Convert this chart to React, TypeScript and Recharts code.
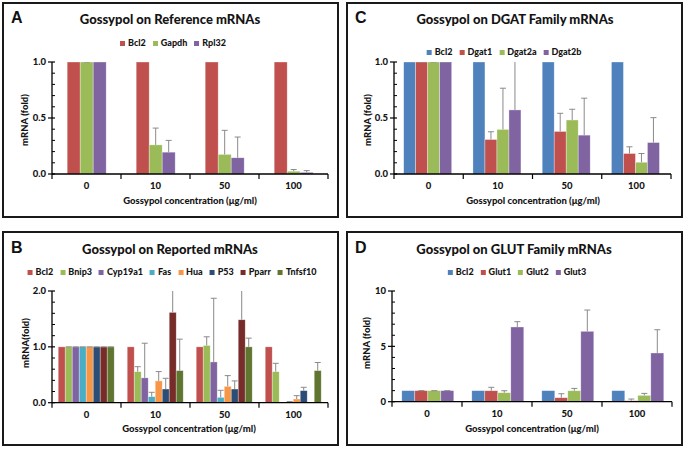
import React from 'react';
import { BarChart, Bar, XAxis, YAxis } from 'recharts';

// ---------- data ----------
const concentrations = ['0', '10', '50', '100'];

// Panel A: reference mRNAs
const aBcl2 = [1, 1, 1, 1];
const aGapdh = [1, 0.26, 0.175, 0.025];
const aGapdhErr = [0, 0.15, 0.215, 0.015];
const aRpl32 = [1, 0.195, 0.145, 0.015];
const aRpl32Err = [0, 0.105, 0.185, 0.015];

// Panel B: reported mRNAs
const bBcl2 = [1, 1, 1, 1];
const bBnip3 = [1, 0.555, 1.025, 0.555];
const bBnip3Err = [0, 0.09, 0.155, 0.15];
const bCyp19a1 = [1, 0.445, 0.73, 0];
const bCyp19a1Err = [0, 0.62, 1.14, 0];
const bFas = [1, 0.108, 0.096, 0.01];
const bFasErr = [0, 0.078, 0.126, 0.01];
const bHua = [1, 0.39, 0.293, 0.066];
const bHuaErr = [0, 0.167, 0.192, 0.06];
const bP53 = [1, 0.245, 0.245, 0.216];
const bP53Err = [0, 0.192, 0.145, 0.06];
const bPparr = [1, 1.617, 1.485, 0];
const bPparrErr = [0, 0.6, 0.6, 0];
const bTnfsf10 = [1, 0.575, 1.0, 0.575];
const bTnfsf10Err = [0, 0.563, 0.156, 0.145];

// Panel C: DGAT family
const cBcl2 = [1, 1, 1, 1];
const cDgat1 = [1, 0.308, 0.38, 0.183];
const cDgat1Err = [0, 0.069, 0.162, 0.06];
const cDgat2a = [1, 0.398, 0.482, 0.105];
const cDgat2aErr = [0, 0.368, 0.096, 0.078];
const cDgat2b = [1, 0.572, 0.347, 0.281];
const cDgat2bErr = [0, 0.45, 0.33, 0.222];

// Panel D: GLUT family
const dBcl2 = [1, 1, 1, 1];
const dGlut1 = [1, 0.99, 0.36, 0.09];
const dGlut1Err = [0, 0.31, 0.36, 0.15];
const dGlut2 = [1, 0.81, 0.99, 0.57];
const dGlut2Err = [0, 0.18, 0.21, 0.18];
const dGlut3 = [1, 6.75, 6.36, 4.4];
const dGlut3Err = [0, 0.48, 1.92, 2.1];

// tick labels
const ticksA = [0, 0.1, 0.2, 0.3, 0.4, 0.5, 0.6, 0.7, 0.8, 0.9, 1.0];
const majorsA = [0, 0.5, 1.0];
const ticksB = [0, 0.2, 0.4, 0.6, 0.8, 1.0, 1.2, 1.4, 1.6, 1.8, 2.0];
const majorsB = [0, 1.0, 2.0];
const ticksD = [0, 1, 2, 3, 4, 5, 6, 7, 8, 9, 10];
const majorsD = [0, 5, 10];

const xTitle = 'Gossypol concentration (μg/ml)';

// ---------- helpers ----------
type Series = { name: string; color: string; values: number[]; err?: number[] };

const buildRows = (series: Series[]) =>
  concentrations.map((c, i) => {
    const row: any = { c };
    series.forEach((s) => {
      row[s.name] = s.values[i];
      if (s.err) row[s.name + '_err'] = s.err[i];
    });
    return row;
  });

const FONT = "Lato, 'Open Sans', 'DejaVu Sans', sans-serif";
const TEXT = '#141414';
const W = 900;

const makeShape = (key: string, hasErr: boolean, max: number) => (props: any) => {
  const { x, y, width, height, fill, payload } = props;
  const v = payload[key];
  const e = hasErr ? payload[key + '_err'] : undefined;
  const els: any[] = [];
  if (height > 0) {
    els.push(
      <rect key="r" x={x} y={y} width={width} height={height} fill={fill} stroke="rgba(255,255,255,0.55)" strokeWidth={0.6} />
    );
  }
  if (e !== undefined && v > 0 && height > 0) {
    const ppu = height / v;
    const topVal = Math.min(v + e, max);
    const yTop = y + height - topVal * ppu;
    const cx = x + width / 2;
    if (e > 0) els.push(<line key="l" x1={cx} x2={cx} y1={y} y2={yTop} stroke="#8a8a8a" strokeWidth={1} />);
    if (v + e <= max)
      els.push(<line key="c" x1={cx - 3} x2={cx + 3} y1={yTop} y2={yTop} stroke="#8a8a8a" strokeWidth={1} />);
  }
  return <g>{els}</g>;
};

const makeYTick = (majors: number[], fmt: (v: number) => string) => (props: any) => {
  const { x, y, payload } = props;
  const v = payload.value;
  const isMajor = majors.some((m) => Math.abs(m - v) < 1e-9);
  return (
    <g>
      {isMajor ? (
        <line x1={x - 4} x2={x + 3} y1={y} y2={y} stroke="#000" strokeWidth={1.2} />
      ) : (
        <line x1={x} x2={x + 3} y1={y} y2={y} stroke="#000" strokeWidth={1} />
      )}
      {isMajor && (
        <text x={x - 6} y={y} dy={3.3} textAnchor="end" fontSize={9.5} fontWeight={W} fill={TEXT} fontFamily={FONT}>
          {fmt(v)}
        </text>
      )}
    </g>
  );
};

const XTick = (props: any) => {
  const { x, y, payload, index, width, visibleTicksCount } = props;
  const half = payload && payload.offset ? payload.offset : (width || 276) / (visibleTicksCount || 4) / 2;
  return (
    <g>
      <line x1={x + half} x2={x + half} y1={y} y2={y + 5} stroke="#000" strokeWidth={1.2} />
      {index === 0 && <line x1={x - half} x2={x - half} y1={y} y2={y + 5} stroke="#000" strokeWidth={1.2} />}
      <text x={x} y={y + 15} textAnchor="middle" fontSize={9.5} fontWeight={W} fill={TEXT} fontFamily={FONT}>
        {payload.value}
      </text>
    </g>
  );
};

type PanelProps = {
  box: { l: number; t: number; w: number; h: number };
  chart: { l: number; t: number; w: number; h: number };
  plot: { l: number; r: number; t: number; b: number };
  letter: string;
  letterPos: [number, number];
  title: string;
  titlePos: [number, number];
  legendPos: [number, number];
  xTitlePos: [number, number];
  yTitle: string;
  yTitlePos: [number, number];
  series: Series[];
  domainMax: number;
  ticks: number[];
  majors: number[];
  fmt: (v: number) => string;
  gap: string;
};

const YAW = 30;
const XAH = 20;

const Panel = (p: PanelProps) => {
  const rows = buildRows(p.series);
  const margin = {
    top: p.plot.t - p.chart.t,
    right: p.chart.l + p.chart.w - p.plot.r,
    left: p.plot.l - p.chart.l - YAW,
    bottom: p.chart.t + p.chart.h - p.plot.b - XAH,
  };
  return (
    <>
      <div
        style={{
          position: 'absolute',
          left: p.box.l,
          top: p.box.t,
          width: p.box.w,
          height: p.box.h,
          border: '2px solid #1a1a1a',
          boxSizing: 'border-box',
          background: '#fff',
        }}
      />
      <div style={{ position: 'absolute', left: p.chart.l, top: p.chart.t }}>
        <BarChart
          width={p.chart.w}
          height={p.chart.h}
          data={rows}
          margin={margin}
          barCategoryGap={p.gap}
          barGap={0}
        >
          <XAxis
            dataKey="c"
            height={XAH}
            tickSize={0}
            tickMargin={0}
            tickLine={false}
            axisLine={{ stroke: '#000', strokeWidth: 1.3 }}
            tick={<XTick />}
            interval={0}
          />
          <YAxis
            width={YAW}
            domain={[0, p.domainMax]}
            ticks={p.ticks}
            interval={0}
            allowDataOverflow
            tickSize={0}
            tickMargin={0}
            tickLine={false}
            axisLine={{ stroke: '#000', strokeWidth: 1.3 }}
            tick={makeYTick(p.majors, p.fmt)}
          />
          {p.series.map((s) => (
            <Bar
              key={s.name}
              dataKey={s.name}
              fill={s.color}
              isAnimationActive={false}
              shape={makeShape(s.name, !!s.err, p.domainMax)}
            />
          ))}
        </BarChart>
      </div>
      <div
        style={{
          position: 'absolute',
          left: p.letterPos[0],
          top: p.letterPos[1] - 9,
          fontFamily: "'Liberation Sans', Arial, sans-serif",
          fontWeight: 'bold',
          fontSize: 16,
          lineHeight: '18px',
          color: '#111',
        }}
      >
        {p.letter}
      </div>
      <div
        style={{
          position: 'absolute',
          left: p.titlePos[0],
          top: p.titlePos[1] - 9,
          transform: 'translateX(-50%)',
          whiteSpace: 'nowrap',
          fontFamily: FONT,
          fontWeight: W,
          fontSize: 13,
          lineHeight: '18px',
          color: TEXT,
        }}
      >
        {p.title}
      </div>
      <div
        style={{
          position: 'absolute',
          left: p.legendPos[0],
          top: p.legendPos[1] - 6,
          transform: 'translateX(-50%)',
          display: 'flex',
          alignItems: 'center',
          whiteSpace: 'nowrap',
          fontFamily: FONT,
          fontWeight: W,
          fontSize: 9,
          lineHeight: '12px',
          color: TEXT,
        }}
      >
        {p.series.map((s, i) => (
          <div key={s.name} style={{ display: 'flex', alignItems: 'center', marginLeft: i === 0 ? 0 : 7 }}>
            <span style={{ display: 'inline-block', width: 5, height: 5, background: s.color, marginRight: 3 }} />
            <span>{s.name}</span>
          </div>
        ))}
      </div>
      <div
        style={{
          position: 'absolute',
          left: p.xTitlePos[0],
          top: p.xTitlePos[1] - 6,
          transform: 'translateX(-50%)',
          whiteSpace: 'nowrap',
          fontFamily: FONT,
          fontWeight: W,
          fontSize: 9.5,
          lineHeight: '12px',
          color: TEXT,
        }}
      >
        {xTitle}
      </div>
      <div
        style={{
          position: 'absolute',
          left: p.yTitlePos[0],
          top: p.yTitlePos[1],
          transform: 'translate(-50%, -50%) rotate(-90deg)',
          whiteSpace: 'nowrap',
          fontFamily: FONT,
          fontWeight: W,
          fontSize: 9.5,
          lineHeight: '12px',
          color: TEXT,
        }}
      >
        {p.yTitle}
      </div>
    </>
  );
};

const RED = '#C0504D';
const GREEN = '#9BBB59';
const PURPLE = '#8064A2';
const BLUE = '#4F81BD';
const CYAN = '#4BACC6';
const ORANGE = '#F79646';
const NAVY = '#2C4D75';
const MAROON = '#772C2A';
const OLIVE = '#5F7530';

const seriesA: Series[] = [
  { name: 'Bcl2', color: RED, values: aBcl2 },
  { name: 'Gapdh', color: GREEN, values: aGapdh, err: aGapdhErr },
  { name: 'Rpl32', color: PURPLE, values: aRpl32, err: aRpl32Err },
];
const seriesB: Series[] = [
  { name: 'Bcl2', color: RED, values: bBcl2 },
  { name: 'Bnip3', color: GREEN, values: bBnip3, err: bBnip3Err },
  { name: 'Cyp19a1', color: PURPLE, values: bCyp19a1, err: bCyp19a1Err },
  { name: 'Fas', color: CYAN, values: bFas, err: bFasErr },
  { name: 'Hua', color: ORANGE, values: bHua, err: bHuaErr },
  { name: 'P53', color: NAVY, values: bP53, err: bP53Err },
  { name: 'Pparr', color: MAROON, values: bPparr, err: bPparrErr },
  { name: 'Tnfsf10', color: OLIVE, values: bTnfsf10, err: bTnfsf10Err },
];
const seriesC: Series[] = [
  { name: 'Bcl2', color: BLUE, values: cBcl2 },
  { name: 'Dgat1', color: RED, values: cDgat1, err: cDgat1Err },
  { name: 'Dgat2a', color: GREEN, values: cDgat2a, err: cDgat2aErr },
  { name: 'Dgat2b', color: PURPLE, values: cDgat2b, err: cDgat2bErr },
];
const seriesD: Series[] = [
  { name: 'Bcl2', color: BLUE, values: dBcl2 },
  { name: 'Glut1', color: RED, values: dGlut1, err: dGlut1Err },
  { name: 'Glut2', color: GREEN, values: dGlut2, err: dGlut2Err },
  { name: 'Glut3', color: PURPLE, values: dGlut3, err: dGlut3Err },
];

const f1 = (v: number) => v.toFixed(1);
const f0 = (v: number) => String(Math.round(v));

export default function App() {
  return (
    <div style={{ position: 'absolute', left: 0, top: 0, width: 685, height: 451, background: '#fff', overflow: 'hidden' }}>
      <Panel
        box={{ l: 2, t: 2, w: 337, h: 216 }}
        chart={{ l: 0, t: 0, w: 340, h: 217 }}
        plot={{ l: 52, r: 328, t: 62, b: 174 }}
        letter="A"
        letterPos={[11, 17.5]}
        title="Gossypol on Reference mRNAs"
        titlePos={[170, 19]}
        legendPos={[173, 43]}
        xTitlePos={[190, 200.5]}
        yTitle="mRNA (fold)"
        yTitlePos={[25, 120]}
        series={seriesA}
        domainMax={1}
        ticks={ticksA}
        majors={majorsA}
        fmt={f1}
        gap="22%"
      />
      <Panel
        box={{ l: 346, t: 2, w: 337, h: 216 }}
        chart={{ l: 340, t: 0, w: 345, h: 217 }}
        plot={{ l: 394, r: 671, t: 62, b: 174 }}
        letter="C"
        letterPos={[355, 17.5]}
        title="Gossypol on DGAT Family mRNAs"
        titlePos={[515, 19]}
        legendPos={[504, 52]}
        xTitlePos={[533, 200.5]}
        yTitle="mRNA (fold)"
        yTitlePos={[368, 120]}
        series={seriesC}
        domainMax={1}
        ticks={ticksA}
        majors={majorsA}
        fmt={f1}
        gap="14%"
      />
      <Panel
        box={{ l: 2, t: 231, w: 337, h: 215 }}
        chart={{ l: 0, t: 225, w: 340, h: 226 }}
        plot={{ l: 52, r: 328, t: 291, b: 402.7 }}
        letter="B"
        letterPos={[11, 247.5]}
        title="Gossypol on Reported mRNAs"
        titlePos={[170, 249]}
        legendPos={[172, 272]}
        xTitlePos={[189, 429]}
        yTitle="mRNA(fold)"
        yTitlePos={[26, 343]}
        series={seriesB}
        domainMax={2}
        ticks={ticksB}
        majors={majorsB}
        fmt={f1}
        gap="9%"
      />
      <Panel
        box={{ l: 346, t: 231, w: 337, h: 215 }}
        chart={{ l: 340, t: 225, w: 345, h: 226 }}
        plot={{ l: 392, r: 672, t: 291, b: 401.7 }}
        letter="D"
        letterPos={[355, 247.5]}
        title="Gossypol on GLUT Family mRNAs"
        titlePos={[514, 249]}
        legendPos={[517, 272]}
        xTitlePos={[532, 429]}
        yTitle="mRNA (fold)"
        yTitlePos={[367, 343]}
        series={seriesD}
        domainMax={10}
        ticks={ticksD}
        majors={majorsD}
        fmt={f0}
        gap="14%"
      />
    </div>
  );
}
